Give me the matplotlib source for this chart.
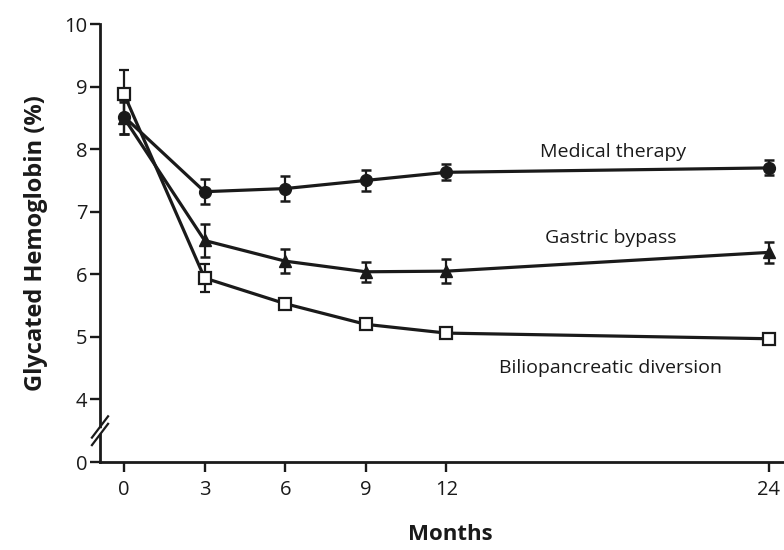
import matplotlib
matplotlib.use("Agg")
import matplotlib.pyplot as plt

plt.rcParams["font.family"] = ["Open Sans", "DejaVu Sans"]

months = [0, 3, 6, 9, 12, 24]

medical = [8.52, 7.32, 7.37, 7.50, 7.63, 7.70]
medical_err = [0.27, 0.20, 0.20, 0.17, 0.13, 0.12]

gastric = [8.50, 6.54, 6.21, 6.04, 6.05, 6.35]
gastric_err = [0.25, 0.26, 0.19, 0.16, 0.19, 0.17]

bilio = [8.88, 5.94, 5.53, 5.20, 5.06, 4.97]
bilio_err = [0.38, 0.23, 0.07, 0.05, 0.05, 0.08]

series_labels = ["Medical therapy", "Gastric bypass", "Biliopancreatic diversion"]
label_pos = [(18.2, 7.95), (18.1, 6.58), (18.1, 4.51)]

# y axis is broken: the bottom tick (drawn at 3) stands for 0
ytick_pos = [3, 4, 5, 6, 7, 8, 9, 10]
ytick_labels = ["0", "4", "5", "6", "7", "8", "9", "10"]

ink = "#1a1a1a"

fig = plt.figure(figsize=(7.84, 5.5), dpi=100)
ax = fig.add_axes([100 / 784, 88 / 550, 684 / 784, 438 / 550])

common = dict(color=ink, lw=2.3, elinewidth=1.6, capsize=3.4, capthick=1.8)
ax.errorbar(months, medical, yerr=medical_err, marker="o", ms=8.5,
            mfc=ink, mec=ink, zorder=3, **common)
ax.errorbar(months, gastric, yerr=gastric_err, marker="^", ms=8.5,
            mfc=ink, mec=ink, zorder=4, **common)
ax.errorbar(months, bilio, yerr=bilio_err, marker="s", ms=8,
            mfc="white", mec=ink, mew=1.6, zorder=5, **common)

for text, (x, y) in zip(series_labels, label_pos):
    ax.text(x, y, text, ha="center", va="center", fontsize=14, color=ink)

ax.set_xlim(-0.893, 24.56)
ax.set_ylim(3, 10)
ax.set_xticks(months)
ax.set_yticks(ytick_pos)
ax.set_yticklabels(ytick_labels)

for side in ["top", "right"]:
    ax.spines[side].set_visible(False)
for side in ["left", "bottom"]:
    ax.spines[side].set_linewidth(2.0)
    ax.spines[side].set_color(ink)

ax.tick_params(axis="both", direction="out", length=7, width=1.7, colors=ink,
               labelsize=14.5)
ax.tick_params(axis="y", pad=2)
ax.tick_params(axis="x", pad=6)

ax.set_ylabel("Glycated Hemoglobin (%)", fontsize=17, fontweight="bold",
              color=ink, labelpad=12)
ax.set_xlabel("Months", fontsize=16, fontweight="bold", color=ink, labelpad=17)
ax.xaxis.label.set_x(0.512)

# axis break mark
x0 = -0.893
ax.plot([x0 - 0.06, x0 + 0.06], [3.50, 3.50], color="white", lw=4,
        clip_on=False, zorder=6, solid_capstyle="butt")
for yc in (3.44, 3.56):
    ax.plot([x0 - 0.30, x0 + 0.30], [yc - 0.17, yc + 0.17], color=ink,
            lw=1.6, clip_on=False, zorder=7)

fig.savefig("out.png", dpi=100)
